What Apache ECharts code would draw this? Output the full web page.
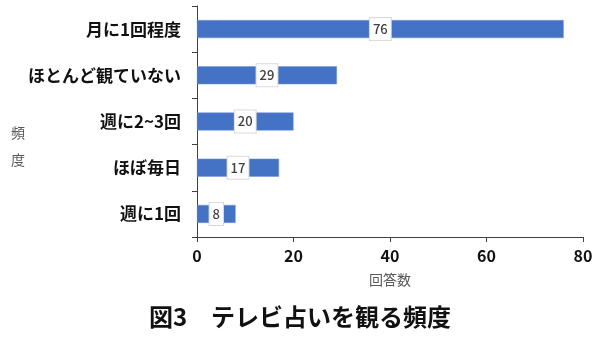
<!DOCTYPE html>
<html>
<head>
<meta charset="utf-8">
<script src="https://cdn.jsdelivr.net/npm/echarts@6/dist/echarts.min.js"></script>
<style>
html, body { margin: 0; padding: 0; background: #fff; }
#chart { width: 600px; height: 337px; }
</style>
</head>
<body>
<div id="chart"></div>
<script>
// Frequency categories (bottom to top) and number of answers
const categories = ['週に1回', 'ほぼ毎日', '週に2~3回', 'ほとんど観ていない', '月に1回程度'];
const answers = [8, 17, 20, 29, 76];
const xTicks = [0, 20, 40, 60, 80];

const FONT = '"Noto Sans CJK JP", "Noto Sans", sans-serif';
const chart = echarts.init(document.getElementById('chart'));

chart.setOption({
  animation: false,
  textStyle: { fontFamily: FONT },
  title: {
    text: '図3　テレビ占いを観る頻度',
    left: 'center',
    top: 300,
    textStyle: { fontSize: 24, fontWeight: 'bold', color: '#111', fontFamily: FONT }
  },
  graphic: [{
    type: 'text',
    left: 11,
    top: 119,
    style: {
      text: '頻\n度',
      fontSize: 14,
      lineHeight: 27,
      fill: '#595959',
      fontFamily: FONT
    }
  }],
  grid: { left: 197, right: 17, top: 6, height: 231, containLabel: false },
  xAxis: {
    type: 'value',
    min: xTicks[0],
    max: xTicks[xTicks.length - 1],
    interval: 20,
    name: '回答数',
    nameLocation: 'middle',
    nameGap: 36,
    nameTextStyle: { fontSize: 14, color: '#595959', fontFamily: FONT },
    axisLine: { show: true, lineStyle: { color: '#404040', width: 1 } },
    axisTick: { show: true, length: 5, lineStyle: { color: '#404040' } },
    axisLabel: { fontSize: 16, fontWeight: 'bold', color: '#111', margin: 11, fontFamily: FONT },
    splitLine: { show: false }
  },
  yAxis: {
    type: 'category',
    data: categories,
    axisLine: { show: true, lineStyle: { color: '#404040', width: 1 } },
    axisTick: { show: true, length: 5, lineStyle: { color: '#404040' } },
    axisLabel: { fontSize: 17, fontWeight: 'bold', color: '#111', margin: 16, fontFamily: FONT }
  },
  series: [{
    type: 'bar',
    data: answers,
    barWidth: '39%',
    itemStyle: { color: '#4472C4', borderColor: '#6f93d6', borderWidth: 0.5 },
    label: {
      show: true,
      position: 'inside',
      color: '#404040',
      fontSize: 13,
      fontWeight: 500,
      fontFamily: FONT,
      backgroundColor: '#fff',
      borderColor: '#d9d9d9',
      borderWidth: 1,
      padding: [5, 3, 4, 3]
    }
  }]
});
</script>
</body>
</html>
